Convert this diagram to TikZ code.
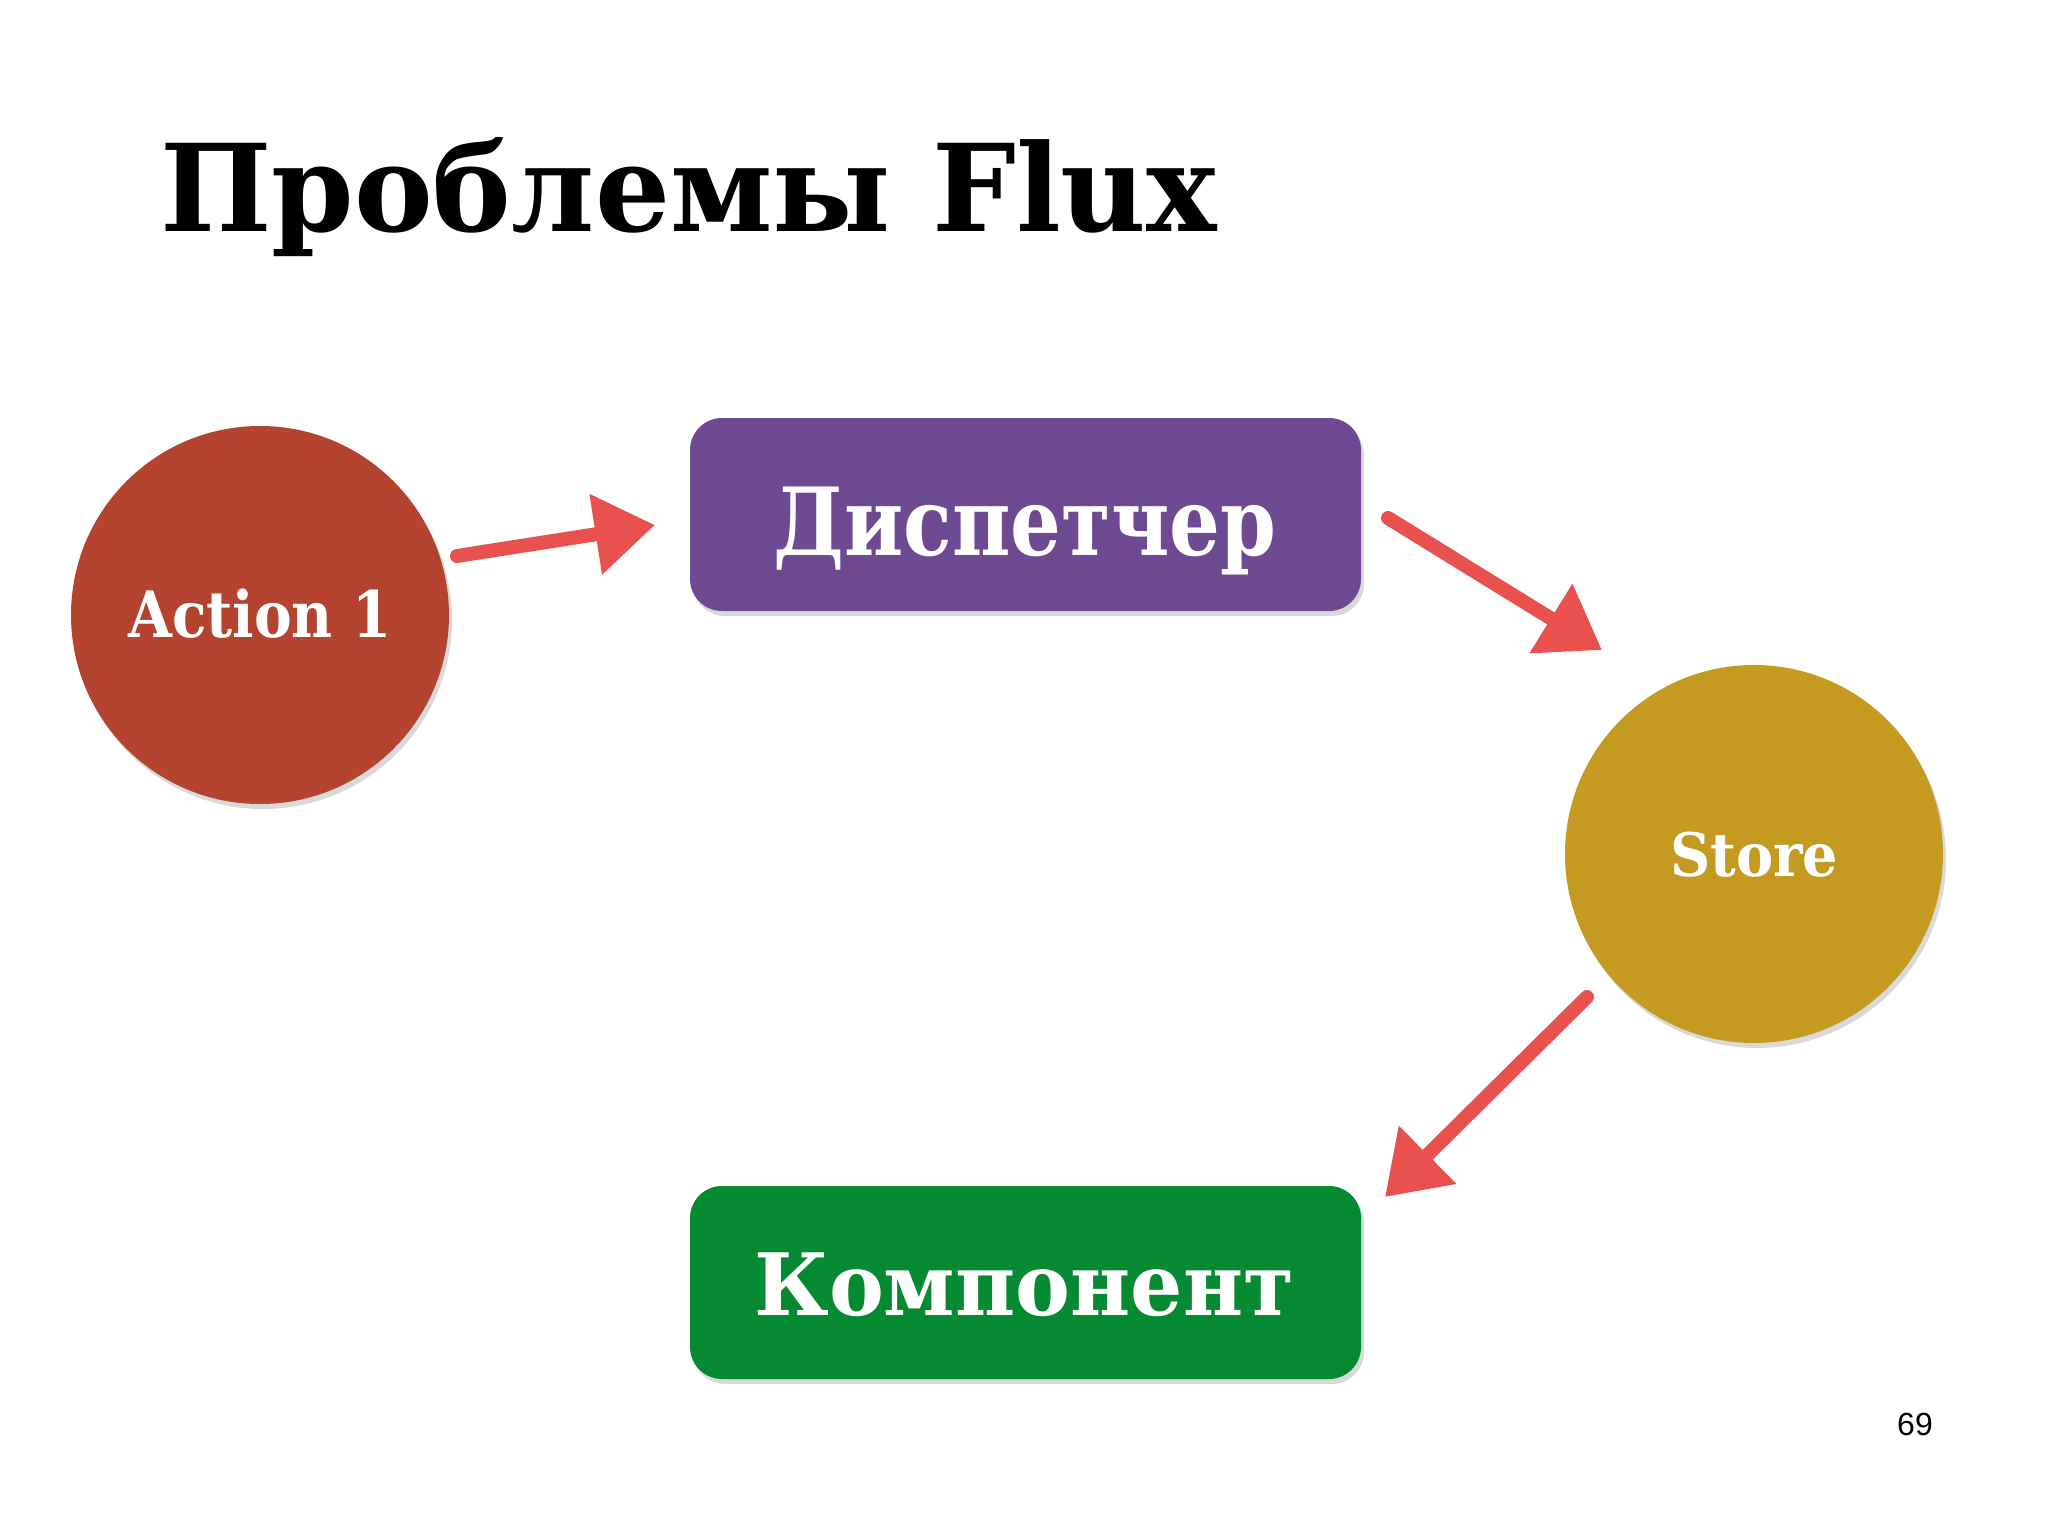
\documentclass[tikz,border=0pt]{standalone}
\usepackage{fontspec}
\usepackage{graphicx}
\usetikzlibrary{arrows.meta,shadows}
\newfontfamily\slab{DejaVu Serif}
\setsansfont{Liberation Sans}
\definecolor{actred}{HTML}{B4432F}
\definecolor{disppurple}{HTML}{6D4A91}
\definecolor{storegold}{HTML}{C49A21}
\definecolor{compgreen}{HTML}{068A31}
\definecolor{arrowred}{HTML}{E8514E}
\begin{document}
\begin{tikzpicture}[x=1pt,y=-1pt,
  softshadow/.style={drop shadow={shadow xshift=3pt,shadow yshift=-5pt,opacity=0.15,fill=black}},
  roundnode/.style={circle,inner sep=0pt,minimum size=378pt,softshadow},
  boxnode/.style={rectangle,rounded corners=32pt,minimum width=671pt,minimum height=193pt,inner sep=0pt,softshadow},
  lbl/.style={anchor=base west,inner sep=0pt,text=white,font=\slab\bfseries},
  flow/.style={draw=arrowred,line width=14pt,line cap=round,-{Triangle[length=60pt,width=78pt]}}
]
\useasboundingbox (0,0) rectangle (2048,1536);
\fill[white] (0,0) rectangle (2048,1536);

% title
\node[anchor=base west,inner sep=0pt,font=\slab\bfseries] (title) at (160,231)
  {\resizebox{1057pt}{\height}{\fontsize{121}{121}\selectfont Проблемы Flux}};

% shapes
\node[roundnode,fill=actred] (act) at (260,615) {};
\node[boxnode,fill=disppurple] (disp) at (1025.5,514.5) {};
\node[roundnode,fill=storegold] (store) at (1754,854) {};
\node[boxnode,fill=compgreen] (comp) at (1025.5,1282.5) {};

% labels
\node[lbl] (actlbl) at (128,637) {\resizebox{264pt}{\height}{\fontsize{64}{64}\selectfont Action 1}};
\node[lbl] (displbl) at (773,555) {\resizebox{503pt}{\height}{\fontsize{94}{94}\selectfont Диспетчер}};
\node[lbl] (storelbl) at (1670,876) {\resizebox{168pt}{\height}{\fontsize{60}{60}\selectfont Store}};
\node[lbl] (complbl) at (754,1315) {\resizebox{540pt}{\height}{\fontsize{86}{86}\selectfont Компонент}};

% page number
\node[anchor=base,inner sep=0pt,font=\sffamily\fontsize{32}{32}\selectfont] (pg) at (1915,1435) {69};

% arrows
\coordinate (a1s) at (457,556);
\coordinate (a1e) at (655,525);
\coordinate (a2s) at (1388,518);
\coordinate (a2e) at (1602,650);
\coordinate (a3s) at (1587,997);
\coordinate (a3e) at (1385,1197);
\draw[flow] (a1s) -- (a1e);
\draw[flow] (a2s) -- (a2e);
\draw[flow] (a3s) -- (a3e);
\end{tikzpicture}
\end{document}
